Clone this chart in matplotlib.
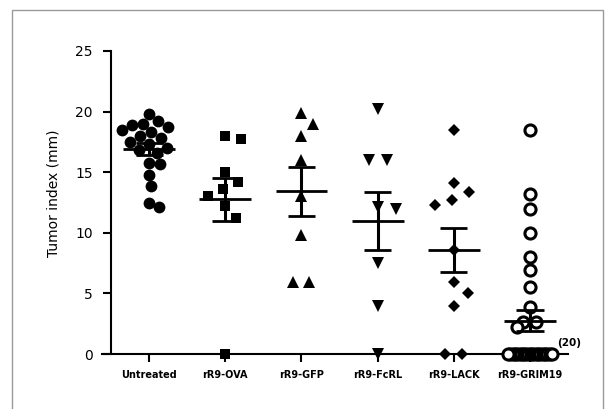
import numpy as np
import matplotlib
matplotlib.use("Agg")
from matplotlib import pyplot as plt
from matplotlib.patches import Rectangle

# Group names (x axis) and the individual tumor index values (mm)
groups = ["Untreated", "rR9-OVA", "rR9-GFP", "rR9-FcRL", "rR9-LACK", "rR9-GRIM19"]

untreated = [19.8, 19.2, 19.0, 18.9, 18.7, 18.5, 18.3, 18.0, 17.8, 17.5,
             17.3, 17.0, 16.8, 16.6, 15.8, 15.7, 14.8, 13.9, 12.5, 12.1]
ova = [18.0, 17.7, 15.0, 14.2, 13.6, 13.0, 12.2, 11.2, 0.0]
gfp = [19.9, 19.0, 18.0, 16.0, 13.0, 9.8, 5.9, 5.9]
fcrl = [20.2, 16.0, 16.0, 12.1, 12.0, 7.5, 4.0, 0.0]
lack = [18.5, 14.1, 13.4, 12.7, 12.3, 8.6, 5.9, 5.0, 4.0, 0.0, 0.0]
grim19 = [18.5, 13.2, 12.0, 10.0, 8.0, 6.9, 5.5, 3.9, 2.6, 2.6, 2.2] + [0.0] * 20

yticks = [0, 5, 10, 15, 20, 25]
zero_count_label = "(20)"

data = [untreated, ova, gfp, fcrl, lack, grim19]

# marker style per group: (marker, size, facecolor, edgewidth, spacing px)
styles = [
    ("o", 8.5, "black", 0.0, 11),
    ("s", 7.5, "black", 0.0, 16),
    ("^", 8.0, "black", 0.0, 16),
    ("v", 8.0, "black", 0.0, 18),
    ("D", 6.5, "black", 0.0, 17),
    ("o", 8.0, "white", 2.2, 13),
]

W, H = 610, 409
fig = plt.figure(figsize=(W / 100, H / 100), dpi=100)
ax = fig.add_axes([102 / W, 55 / H, 466 / W, 303 / H])
ax.set_xlim(-0.62, 5.5)
ax.set_ylim(0, 25)

# pixel scale of one data unit, used for spreading overlapping points
xpx = 466 / 6.12
ypx = 303 / 25.0


def swarm(vals, d, limit=22.0):
    ys = np.asarray(vals, dtype=float) * ypx
    offs = np.zeros(len(ys))
    placed = []
    for i in np.argsort(-ys, kind="stable"):
        k = 0
        while True:
            found = None
            for cand in ([0.0] if k == 0 else [k, -k]):
                if all((cand - offs[j]) ** 2 + (ys[i] - ys[j]) ** 2 >= d * d for j in placed):
                    found = cand
                    break
            if found is not None:
                break
            k += 1
        offs[i] = found
        placed.append(i)
    # rows of identical values: center them and squeeze to the column width
    vals = np.asarray(vals)
    for v in np.unique(vals):
        idx = np.where(vals == v)[0]
        if len(idx) > 1:
            row = offs[idx] - offs[idx].mean()
            m = np.abs(row).max()
            if m > limit:
                row = row * limit / m
            offs[idx] = row
    return offs / xpx


for i, (vals, st) in enumerate(zip(data, styles)):
    marker, ms, fc, mew, d = st
    xs = i + swarm(vals, d)
    ax.plot(xs, vals, linestyle="none", marker=marker, markersize=ms,
            markerfacecolor=fc, markeredgecolor="black", markeredgewidth=mew,
            clip_on=False, zorder=3)
    v = np.asarray(vals)
    mean = v.mean()
    sem = v.std(ddof=1) / np.sqrt(len(v))
    ax.hlines(mean, i - 0.34, i + 0.34, color="black", lw=2, zorder=4)
    ax.vlines(i, mean - sem, mean + sem, color="black", lw=2.2, zorder=4)
    ax.hlines([mean - sem, mean + sem], i - 0.18, i + 0.18, color="black", lw=2, zorder=4)

ax.annotate(zero_count_label, xy=(5, 0), xytext=(19.5, 8), textcoords="offset points",
            ha="left", va="center", fontsize=7.5, fontweight="bold")

for s in ["top", "right"]:
    ax.spines[s].set_visible(False)
ax.spines["left"].set_position(("data", -0.5))
ax.spines["left"].set_bounds(0, 25)
ax.spines["left"].set_linewidth(1.5)
ax.spines["bottom"].set_linewidth(1.5)

ax.set_yticks(yticks)
ax.set_xticks(range(len(groups)))
ax.set_xticklabels(groups, fontsize=7, fontweight="bold")
ax.tick_params(axis="y", length=5.8, width=1.5, pad=7.5, labelsize=10)
ax.tick_params(axis="x", length=5.8, width=1.5, pad=6)
ax.set_ylabel("Tumor index (mm)", fontsize=10)
ax.yaxis.set_label_coords(-0.09, 0.53)

# thin grey frame around the whole figure
fig.patches.append(Rectangle((12 / W, -0.1), (603 - 12) / W, 1.1 - 10 / H,
                             transform=fig.transFigure, fill=False,
                             edgecolor="#9a9a9a", lw=1))

fig.savefig("out.png", dpi=100)
